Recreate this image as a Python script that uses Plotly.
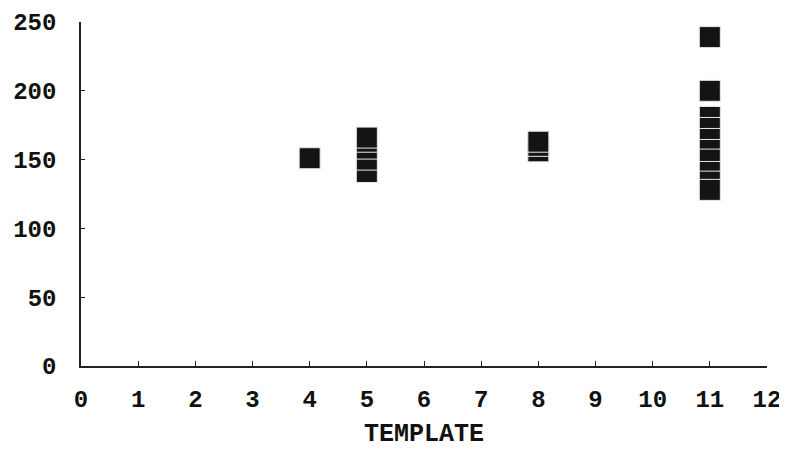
import plotly.graph_objects as go

template_x = [4,
              5, 5, 5, 5, 5,
              8, 8, 8,
              11, 11, 11, 11, 11, 11, 11, 11, 11, 11]
values_y = [151,
            141, 150, 158, 163, 166,
            156, 160, 163,
            239, 200, 181, 173, 165, 157, 150, 141, 134, 128]

x_ticks = list(range(0, 13))
y_ticks = [0, 50, 100, 150, 200, 250]
x_title = "TEMPLATE"

fig = go.Figure()
fig.add_trace(go.Scatter(
    x=template_x, y=values_y, mode="markers",
    marker=dict(symbol="square", size=21, color="#141414",
                line=dict(color="#e8e8e8", width=1)),
))

font = dict(family="Liberation Mono, Courier New, monospace", size=24,
            color="#111111", weight="bold")

fig.update_layout(
    width=779, height=443,
    margin=dict(l=73, r=20, t=14, b=85, autoexpand=False),
    paper_bgcolor="white", plot_bgcolor="white",
    showlegend=False,
    font=font,
    xaxis=dict(range=[0, 12], tickvals=x_ticks, showgrid=False, zeroline=False,
               automargin=False, ticklabeloverflow="allow",
               showline=True, linecolor="#222", linewidth=1.5,
               ticks="inside", ticklen=5, tickcolor="#222",
               ticklabelstandoff=10),
    yaxis=dict(range=[0, 250], tickvals=y_ticks, showgrid=False, zeroline=False,
               automargin=False,
               showline=True, linecolor="#222", linewidth=1.5,
               ticks="inside", ticklen=4, tickcolor="#222",
               ticklabelstandoff=18),
    annotations=[dict(text=x_title, xref="paper", yref="paper",
                      x=0.5, y=-0.243, xanchor="center", yanchor="bottom",
                      borderpad=0, showarrow=False, font=dict(size=25))],
)

fig.write_html("out.html")
